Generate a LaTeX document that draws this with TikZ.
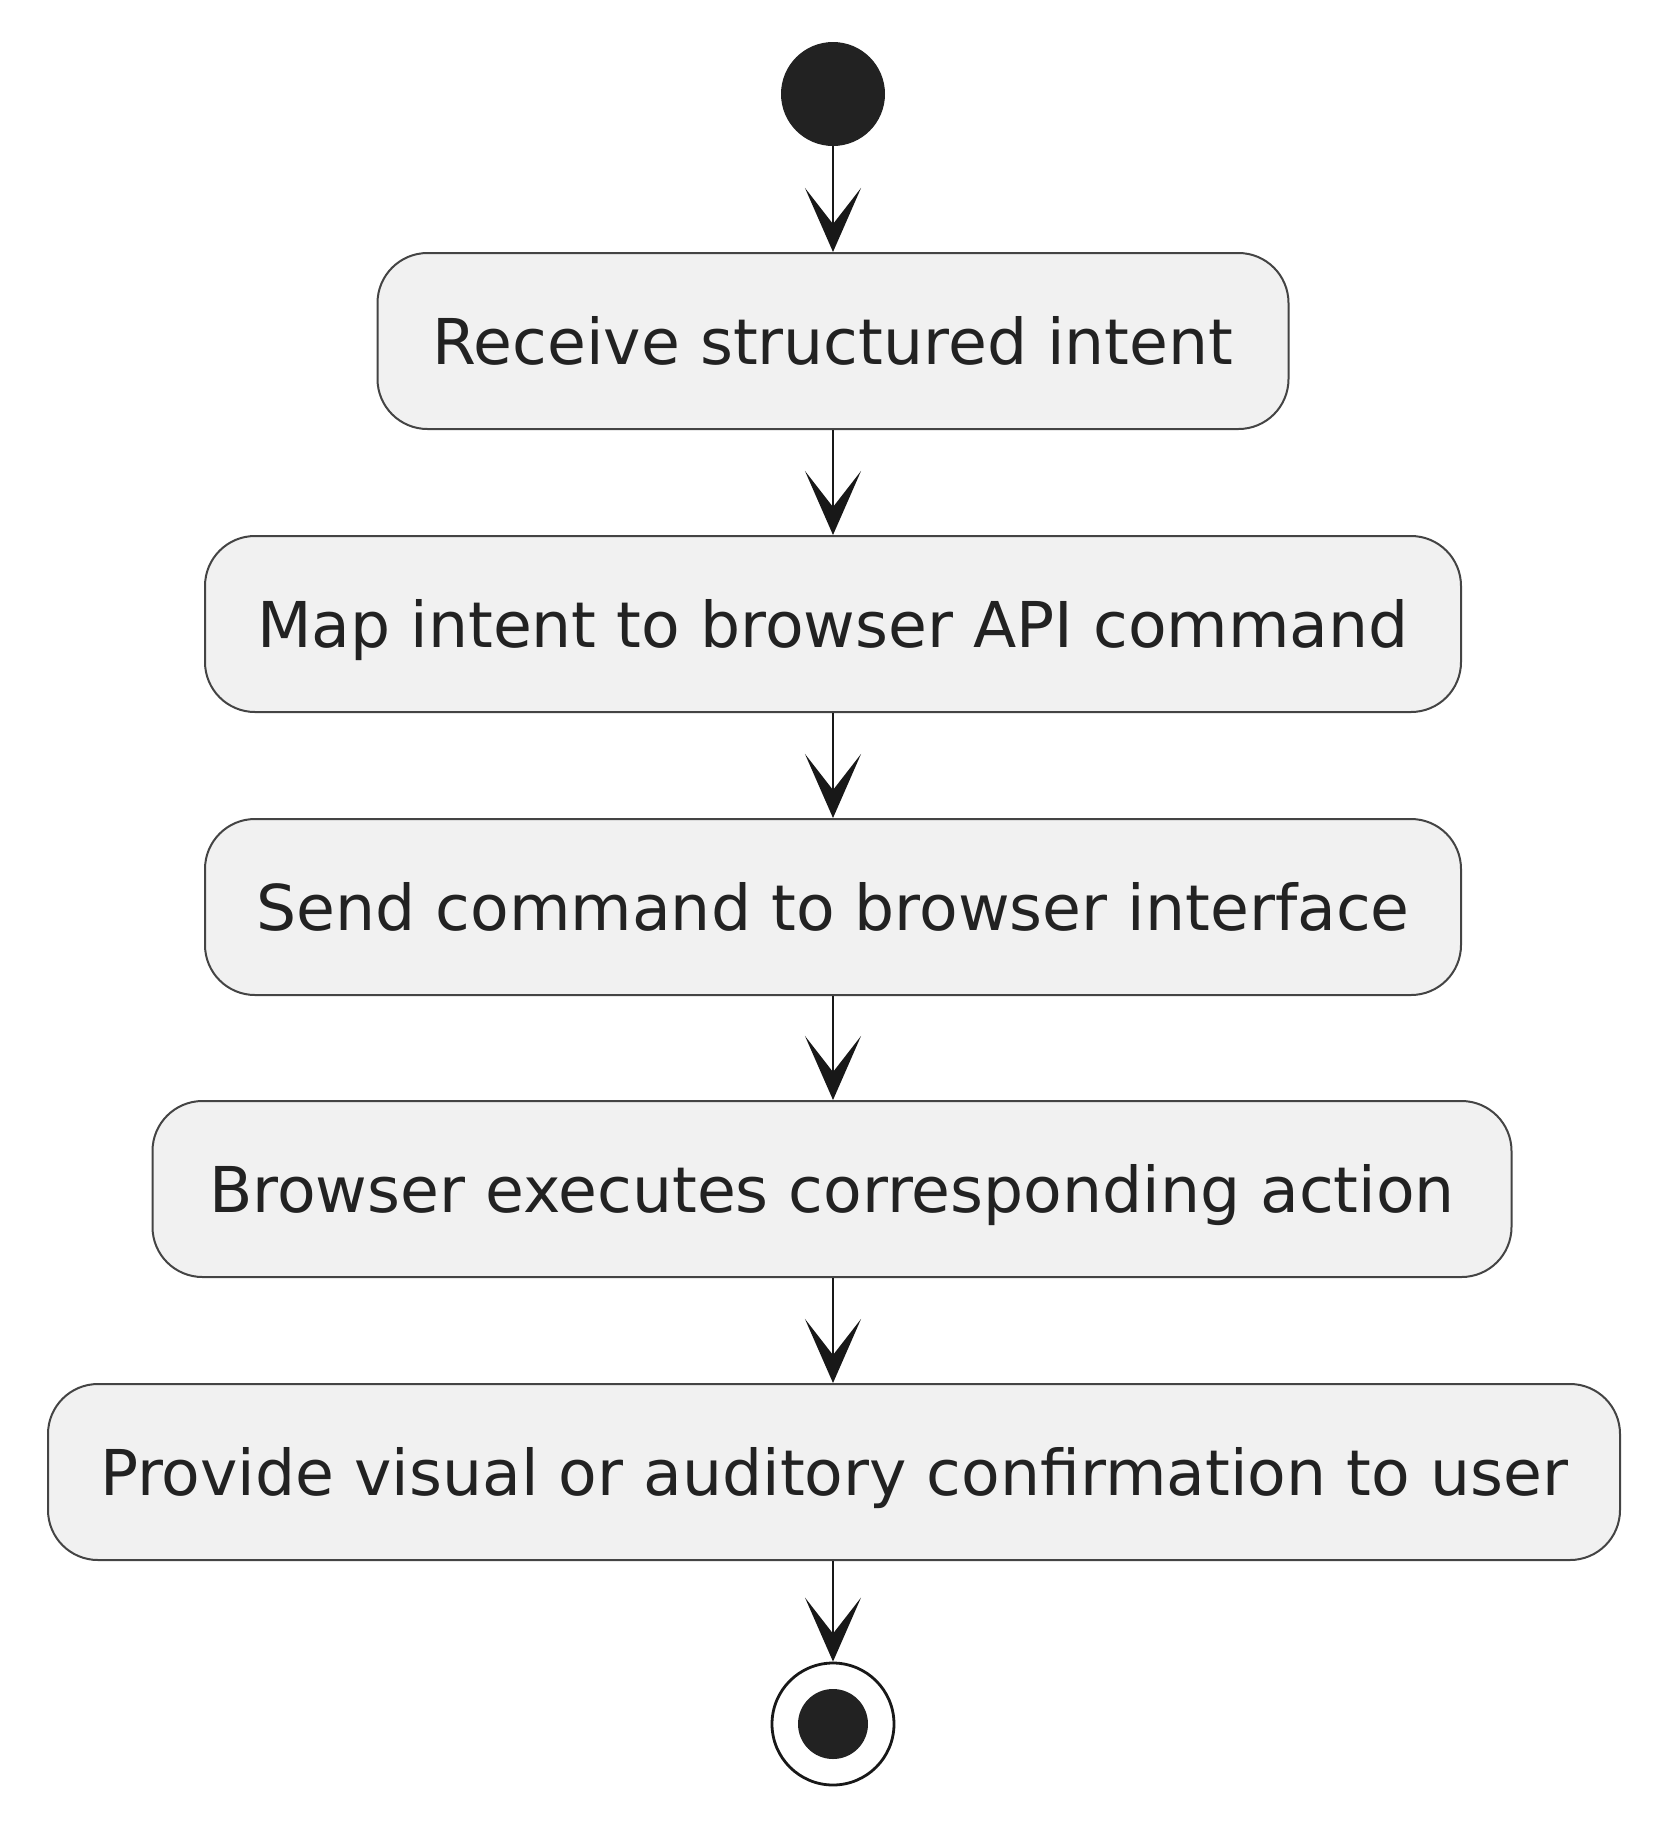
\documentclass[tikz,border=0pt]{standalone}
\usepackage{fontspec}
\setmainfont{DejaVu Sans}
\usetikzlibrary{arrows.meta}
\definecolor{boxfill}{HTML}{F1F1F1}
\definecolor{ink}{HTML}{181818}
\definecolor{edge}{HTML}{444444}
\definecolor{dot}{HTML}{222222}
\begin{document}
\begin{tikzpicture}[x=0.5pt,y=-0.5pt,
  act/.style={draw=edge, line width=1pt, fill=boxfill, rounded corners=25pt,
    minimum height=88pt, inner sep=0pt, text height=23pt, text depth=0pt,
    font=\fontsize{31.6}{37}\selectfont, text=dot},
  flow/.style={draw=ink, line width=1.4pt, -{Stealth[length=32pt,width=28pt,inset=18pt]}}]
\useasboundingbox (0,0) rectangle (1653,1821);
\node[circle, fill=dot, minimum size=52pt, inner sep=0pt] (start) at (833,94) {};
\node[act, minimum width=455.5pt] (a1) at (833,341) {Receive structured intent};
\node[act, minimum width=628pt] (a2) at (833,624) {Map intent to browser API command};
\node[act, minimum width=628pt] (a3) at (833,907) {Send command to browser interface};
\node[act, minimum width=679.5pt] (a4) at (832,1189) {Browser executes corresponding action};
\node[act, minimum width=786pt] (a5) at (834,1472) {Provide visual or auditory confirmation to user};
\node[circle, draw=ink, line width=1.4pt, minimum size=61pt, inner sep=0pt] (stop) at (833,1724) {};
\node[circle, fill=dot, minimum size=35pt, inner sep=0pt] (stopin) at (833,1724) {};
\draw[flow] (start.south) -- (start.south |- a1.north);
\draw[flow] (a1.south) -- (a1.south |- a2.north);
\draw[flow] (a2.south) -- (a2.south |- a3.north);
\draw[flow] (a3.south) -- (a3.south |- a4.north);
\draw[flow] (a4.south -| a3.south) -- (a3.south |- a5.north);
\draw[flow] (a5.south -| a3.south) -- (stop.north);
\end{tikzpicture}
\end{document}
